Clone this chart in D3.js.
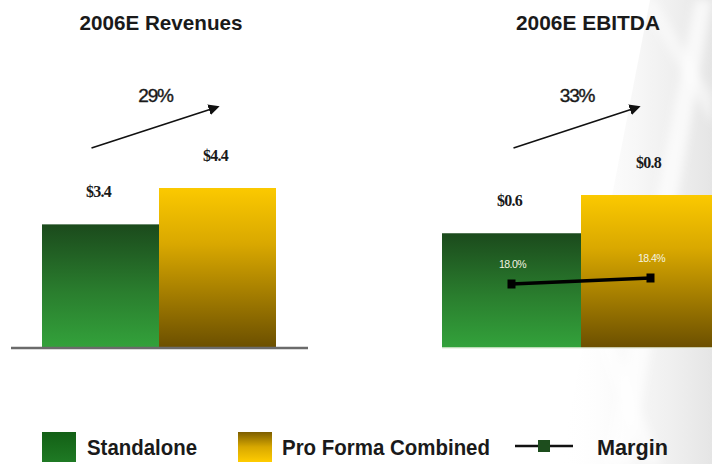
<!DOCTYPE html>
<html>
<head>
<meta charset="utf-8">
<script src="https://cdn.jsdelivr.net/npm/d3@7"></script>
<style>
  body { margin: 0; background: #fff; }
  svg { display: block; }
</style>
</head>
<body>
<div class="graph"></div>
<script>
// data
const categories = ["Standalone", "Pro Forma Combined"];
const revenues = [3.4, 4.4];
const ebitda = [0.6, 0.8];
const margin = [18.0, 18.4];
const growth = [29, 33];
const titles = ["2006E Revenues", "2006E EBITDA"];

//setting
const width = 712;
const height = 464;
const baseY = 348;

const svg = d3
  .select(".graph")
  .append("svg")
  .attr("width", width)
  .attr("height", height);

const defs = svg.append("defs");
function grad(id, stops, vertical) {
  const g = defs.append("linearGradient").attr("id", id)
    .attr("x1", 0).attr("y1", 0)
    .attr("x2", vertical ? 0 : 1).attr("y2", vertical ? 1 : 0);
  stops.forEach(s => g.append("stop").attr("offset", s[0]).attr("stop-color", s[1]).attr("stop-opacity", s[2] == null ? 1 : s[2]));
}
grad("gGreen", [[0, "#1b4a1c"], [0.55, "#2a7e2e"], [1, "#33a23b"]], true);
grad("gGold", [[0, "#fbc900"], [0.35, "#d9a800"], [1, "#6b4f00"]], true);
grad("gGreenLeg", [[0, "#136016"], [1, "#1f7a24"]], true);
grad("gGoldLeg", [[0, "#7d5e00"], [0.5, "#d8a800"], [1, "#ffcc00"]], true);
grad("gBg", [[0, "#ffffff", 0], [0.6, "#ececec", 0.6], [1, "#e2e2e2", 0.9]], false);

//faint background shading on the right
const bg = svg.append("g");
const blur = defs.append("filter").attr("id", "soft");
blur.append("feGaussianBlur").attr("stdDeviation", 4);
bg.append("path").attr("d", "M560,464 L650,0 L712,0 L712,464 Z").attr("fill", "url(#gBg)");
bg.append("g").attr("filter", "url(#soft)").attr("fill", "#fff").call(s => {
  s.append("path").attr("d", "M605,464 L695,0 L712,0 L630,464 Z").attr("opacity", 0.7);
  s.append("path").attr("d", "M645,464 L565,260 L580,260 L662,464 Z").attr("opacity", 0.6);
  s.append("path").attr("d", "M655,0 L712,95 L712,125 L640,0 Z").attr("opacity", 0.5);
});

//arrowhead
defs.append("marker").attr("id", "arrow")
  .attr("viewBox", "0 0 10 10").attr("refX", 8).attr("refY", 5)
  .attr("markerWidth", 7).attr("markerHeight", 7).attr("orient", "auto")
  .append("path").attr("d", "M0,0 L10,5 L0,10 Z").attr("fill", "#111");

function panel(opts) {
  const g = svg.append("g");
  const xScale = d3.scaleBand().domain(categories).range(opts.xRange).padding(0);
  const yScale = d3.scaleLinear().domain([0, opts.vmax]).range([baseY, opts.topY]);
  const cx = d => xScale(d) + xScale.bandwidth() / 2;

  g.append("text")
    .attr("x", opts.titleX).attr("y", 30)
    .attr("text-anchor", "middle")
    .attr("font-family", "Liberation Sans, Arial, sans-serif")
    .attr("font-weight", "bold").attr("font-size", 21)
    .attr("textLength", opts.titleLen).attr("lengthAdjust", "spacingAndGlyphs")
    .attr("fill", "#1a1a1a")
    .text(opts.title);

  //bars
  g.selectAll("rect.bar").data(opts.values).enter().append("rect")
    .attr("class", "bar")
    .attr("x", (d, i) => xScale(categories[i]))
    .attr("y", d => yScale(d))
    .attr("width", xScale.bandwidth())
    .attr("height", d => baseY - yScale(d))
    .attr("fill", (d, i) => (i === 0 ? "url(#gGreen)" : "url(#gGold)"));

  //value labels
  g.selectAll("text.val").data(opts.values).enter().append("text")
    .attr("class", "val")
    .attr("x", (d, i) => cx(categories[i]) - 2)
    .attr("y", d => yScale(d) - 27)
    .attr("text-anchor", "middle")
    .attr("font-family", "Liberation Serif, Times New Roman, serif")
    .attr("font-weight", "bold").attr("font-size", 16)
    .attr("letter-spacing", -0.8)
    .attr("fill", "#1a1a1a")
    .text(d => "$" + d.toFixed(1));

  //baseline
  g.append("line")
    .attr("x1", opts.axisX[0]).attr("x2", opts.axisX[1])
    .attr("y1", baseY).attr("y2", baseY)
    .attr("stroke", opts.axisColor).attr("stroke-width", opts.axisWidth);

  //growth arrow
  const x0 = cx(categories[0]) - opts.arrowIn[0];
  const x1 = cx(categories[1]) - opts.arrowIn[1];
  g.append("line")
    .attr("x1", x0).attr("y1", 148).attr("x2", x1).attr("y2", 107)
    .attr("stroke", "#111").attr("stroke-width", 1.6)
    .attr("marker-end", "url(#arrow)");
  g.append("text")
    .attr("x", (x0 + x1) / 2 + 1).attr("y", 102)
    .attr("text-anchor", "middle")
    .attr("font-family", "Liberation Sans, Arial, sans-serif")
    .attr("font-size", 19).attr("letter-spacing", -1.2)
    .attr("stroke", "#1a1a1a").attr("stroke-width", 0.4)
    .attr("fill", "#1a1a1a")
    .text(opts.growth + "%");

  return { xScale, cx };
}

panel({
  title: titles[0], titleX: 161, titleLen: 163,
  values: revenues, vmax: 4.4, topY: 188,
  xRange: [42, 276], axisX: [11, 308], axisColor: "#6b6b6b", axisWidth: 2.5,
  arrowIn: [9, 0], growth: growth[0]
});

const right = panel({
  title: titles[1], titleX: 588, titleLen: 144,
  values: ebitda, vmax: 0.8, topY: 195,
  xRange: [442, 720], axisX: [442, 712], axisColor: "#e8efe0", axisWidth: 1.5,
  arrowIn: [-2, 12], growth: growth[1]
});

//margin line
const mScale = d3.scaleLinear().domain([18.0, 18.4]).range([284, 278]);
const mLine = d3.line()
  .x((d, i) => right.cx(categories[i]))
  .y(d => mScale(d));
svg.append("path").datum(margin)
  .attr("d", mLine).attr("fill", "none")
  .attr("stroke", "#000").attr("stroke-width", 3.5);
svg.selectAll("rect.mk").data(margin).enter().append("rect")
  .attr("class", "mk")
  .attr("x", (d, i) => right.cx(categories[i]) - 4)
  .attr("y", d => mScale(d) - 4.5)
  .attr("width", 8).attr("height", 9)
  .attr("fill", "#000");
svg.selectAll("text.mlab").data(margin).enter().append("text")
  .attr("class", "mlab")
  .attr("x", (d, i) => right.cx(categories[i]) + 1)
  .attr("y", d => mScale(d) - 16)
  .attr("text-anchor", "middle")
  .attr("font-family", "Liberation Sans, Arial, sans-serif")
  .attr("font-size", 10.5).attr("letter-spacing", -0.6)
  .attr("fill", "#f4f4e0")
  .text(d => d.toFixed(1) + "%");

//legend
const legend = svg.append("g")
  .attr("font-family", "Liberation Sans, Arial, sans-serif")
  .attr("font-weight", "bold").attr("font-size", 22).attr("fill", "#1a1a1a");
legend.append("rect").attr("x", 42).attr("y", 432).attr("width", 34).attr("height", 30).attr("fill", "url(#gGreenLeg)");
legend.append("text").attr("x", 87).attr("y", 455).attr("textLength", 110).attr("lengthAdjust", "spacingAndGlyphs").text(categories[0]);
legend.append("rect").attr("x", 238).attr("y", 432).attr("width", 34).attr("height", 30).attr("fill", "url(#gGoldLeg)");
legend.append("text").attr("x", 282).attr("y", 455).attr("textLength", 208).attr("lengthAdjust", "spacingAndGlyphs").text(categories[1]);
legend.append("line").attr("x1", 515).attr("x2", 573).attr("y1", 446).attr("y2", 446).attr("stroke", "#111").attr("stroke-width", 2.5);
legend.append("rect").attr("x", 538).attr("y", 440).attr("width", 12).attr("height", 12).attr("fill", "#1d4d1d");
legend.append("text").attr("x", 597).attr("y", 455).attr("textLength", 71).attr("lengthAdjust", "spacingAndGlyphs").text("Margin");
</script>
</body>
</html>
